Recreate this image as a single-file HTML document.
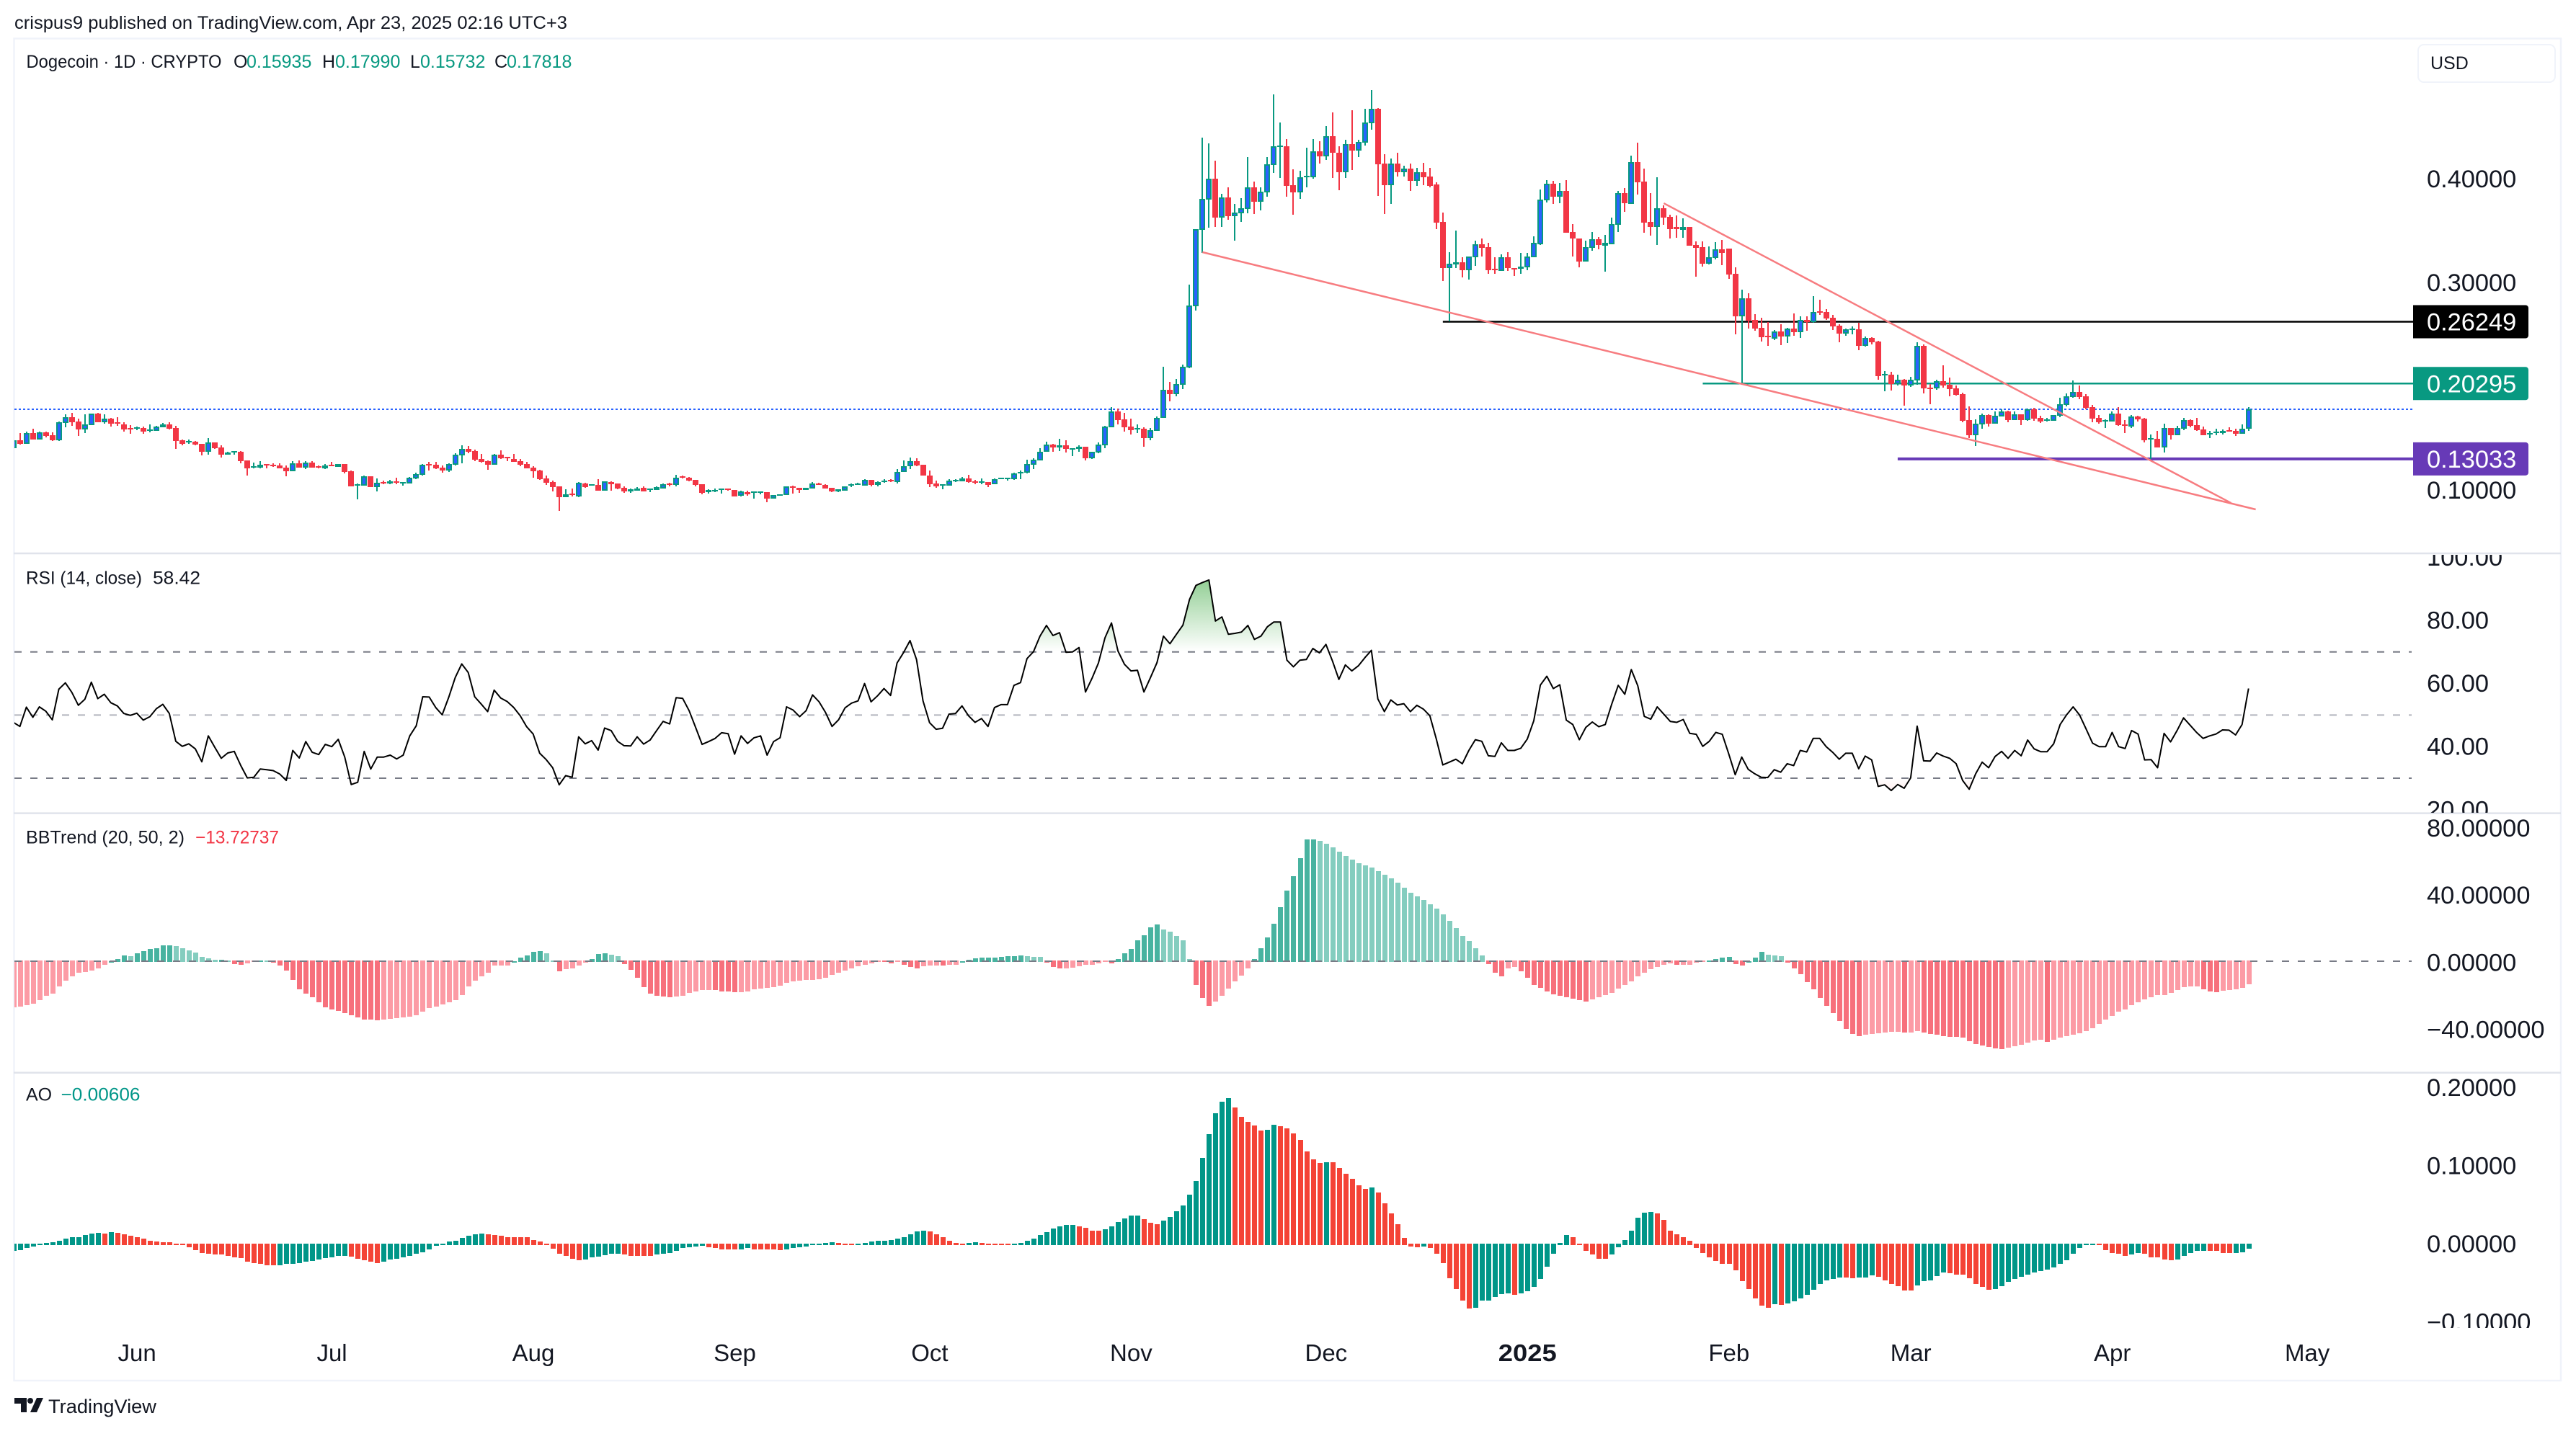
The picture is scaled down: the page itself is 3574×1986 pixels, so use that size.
<!DOCTYPE html>
<html lang="en">
<head>
<meta charset="utf-8">
<title>Dogecoin 1D chart</title>
<style>
html,body{margin:0;padding:0;background:#fff;width:3574px;height:1986px;overflow:hidden}
svg{display:block}
text{font-family:"Liberation Sans",sans-serif;fill:#131722}
.lg{font-size:25px}
.ax{font-size:34.4px}
.tm{font-size:33px;text-anchor:middle}
</style>
</head>
<body>
<svg id="chart" xmlns="http://www.w3.org/2000/svg" width="3574" height="1986" viewBox="0 0 3574 1986">
<defs>
<clipPath id="plotClip"><rect x="20" y="54" width="3533" height="1790"/></clipPath>
<clipPath id="aboveClip"><rect x="20" y="770" width="3330" height="134.4"/></clipPath>
<clipPath id="belowClip"><rect x="20" y="1080" width="3330" height="48"/></clipPath>
<clipPath id="rsiAxisClip"><rect x="3350" y="770" width="220" height="358"/></clipPath>
<clipPath id="aoAxisClip"><rect x="3350" y="1490" width="220" height="353"/></clipPath>
<linearGradient id="obGrad" gradientUnits="userSpaceOnUse" x1="0" y1="773" x2="0" y2="904.4">
<stop offset="0" stop-color="#4caf50" stop-opacity="0.8"/><stop offset="1" stop-color="#4caf50" stop-opacity="0"/>
</linearGradient>
<linearGradient id="osGrad" gradientUnits="userSpaceOnUse" x1="0" y1="1080" x2="0" y2="1211">
<stop offset="0" stop-color="#ff5252" stop-opacity="0"/><stop offset="1" stop-color="#ff5252" stop-opacity="0.8"/>
</linearGradient>
</defs>
<rect width="3574" height="1986" fill="#fff"/>
<text x="20" y="40" font-size="25" textLength="767" lengthAdjust="spacingAndGlyphs">crispus9 published on TradingView.com, Apr 23, 2025 02:16 UTC+3</text>
<g fill="none" stroke="#f0f3fa" stroke-width="2.5">
<rect x="19.5" y="53.5" width="3533.5" height="1862.5"/>
</g>
<g stroke="#e0e3eb" stroke-width="2.5">
<line x1="19" y1="768" x2="3553" y2="768"/>
<line x1="19" y1="1128.6" x2="3553" y2="1128.6"/>
<line x1="19" y1="1488.7" x2="3553" y2="1488.7"/>
</g>
<line x1="20" y1="568" x2="3348" y2="568" stroke="#2962ff" stroke-width="2" stroke-dasharray="3 3"/>
<g id="levels" clip-path="url(#plotClip)"></g>
<g id="candles" clip-path="url(#plotClip)" shape-rendering="crispEdges"></g>
<g id="trendlines"></g>
<g id="levelTags"></g>
<g id="priceAxis"></g>
<g>
<rect x="3355" y="62" width="190" height="52" rx="8" fill="#fff" stroke="#f0f3fa" stroke-width="2"/>
<text x="3372" y="96" class="lg">USD</text>
</g>
<g>
<text x="36.5" y="94" class="lg" textLength="271" lengthAdjust="spacingAndGlyphs">Dogecoin · 1D · CRYPTO</text>
<text x="324" y="94" class="lg">O</text>
<text x="342" y="94" class="lg" style="fill:#089981">0.15935</text>
<text x="447" y="94" class="lg">H</text>
<text x="465" y="94" class="lg" style="fill:#089981">0.17990</text>
<text x="569" y="94" class="lg">L</text>
<text x="583" y="94" class="lg" style="fill:#089981">0.15732</text>
<text x="686" y="94" class="lg">C</text>
<text x="703" y="94" class="lg" style="fill:#089981">0.17818</text>
</g>
<g id="rsiPane"></g>
<text x="36" y="810.5" class="lg" textLength="161" lengthAdjust="spacingAndGlyphs">RSI (14, close)</text>
<text x="212" y="810.5" class="lg" textLength="66" lengthAdjust="spacingAndGlyphs">58.42</text>
<g id="bbPane"></g>
<text x="36" y="1170.5" class="lg" textLength="220" lengthAdjust="spacingAndGlyphs">BBTrend (20, 50, 2)</text>
<text x="271" y="1170.5" class="lg" style="fill:#f23645" textLength="116" lengthAdjust="spacingAndGlyphs">−13.72737</text>
<g id="aoPane"></g>
<text x="36" y="1527.7" class="lg">AO</text>
<text x="84.5" y="1527.7" class="lg" style="fill:#009688" textLength="110" lengthAdjust="spacingAndGlyphs">−0.00606</text>
<g id="timeAxis"></g>
<g fill="#131722">
<path d="M20 1940h17v20h-8v-12h-9z"/>
<circle cx="42" cy="1944" r="4"/>
<path d="M51 1940h9l-9 20h-9z"/>
<text x="67" y="1961" font-size="27" textLength="150" lengthAdjust="spacingAndGlyphs">TradingView</text>
</g>
</svg>
<script>
const opens=[
.1408,.1482,.1450,.1552,.1489,.1559,.1531,.1482,.1649,.1704,
.1663,.1586,.1628,.1739,.1656,.1691,.1656,.1635,.1600,.1593,
.1600,.1573,.1573,.1607,.1635,.1600,.1482,.1461,.1468,.1448,
.1371,.1461,.1413,.1343,.1364,.1371,.1288,.1219,.1219,.1253,
.1246,.1239,.1218,.1184,.1260,.1218,.1267,.1230,.1211,.1246,
.1225,.1253,.1184,.1045,.1045,.1135,.1031,.1080,.1066,.1086,
.1066,.1066,.1114,.1149,.1253,.1246,.1218,.1191,.1246,.1336,
.1399,.1378,.1302,.1281,.1246,.1343,.1323,.1302,.1281,.1253,
.1218,.1191,.1114,.1080,.1038,.0934,.0968,.0942,.1066,.1042,
.1052,.0995,.1077,.1063,.1024,.0992,.0995,.1024,.1003,.1006,
.1020,.1063,.1049,.1133,.1123,.1098,.1056,.0985,.0992,.1009,
.1020,.1006,.0946,.0985,.0981,.0974,.0981,.0917,.0950,.0957,
.1041,.1024,.1006,.1020,.1066,.1052,.1024,.0988,.0995,.1042,
.1049,.1042,
.1103,.1053,.1078,.1103,.1081,.1174,.1230,.1282,.1248,.1143,
.1065,.1044,.1044,.1087,.1090,.1115,.1090,.1075,.1081,.1056,
.1109,.1112,.1109,.1168,.1168,.1248,.1291,.1369,.1440,.1413,
.1434,.1397,.1397,.1422,.1310,.1366,.1434,.1611,.1760,.1685,
.1614,.1589,.1595,.1502,.1574,.1695,.1971,.1930,.2017,.2184,
.2773,.3511,.3799,.4004,.3629,.3824,.3641,.3673,.3713,.3920,
.3781,.3874,.4137,.4311,.4317,.3942,.3874,.4016,.4016,.4267,
.4221,.4413,.4255,.4066,.4336,.4277,.4351,.4540,.4677,.4150,
.3942,.4150,.4063,.4100,.3982,.4069,.4026,.3948,.3585,.3145,
.3176,.3201,.3120,.3248,.3372,.3344,.3136,.3115,.3248,.3145,
.3136,.3152,.3248,.3375,.3796,.3954,.3827,.3886,.3489,.3427,
.3204,.3338,.3421,.3356,.3375,.3561,.3864,.3762,.4162,.3976,
.3585,.3539,.3719,.3635,.3536,.3511,.3539,.3365,.3344,.3185,
.3239,.3322,.3331,
.3087,.2677,.2850,.2642,.2566,.2489,.2462,.2531,.2482,.2559,
.2524,.2642,.2621,.2725,.2718,.2663,.2587,.2510,.2552,.2552,
.2392,.2468,.2434,.2107,.2114,.2024,.2066,.2010,.2059,.2392,
.1992,.1982,.2052,.2017,.1982,.1927,.1677,.1531,.1635,.1725,
.1642,.1712,.1760,
.1677,.1732,.1677,.1781,.1697,.1674,.1670,.1718,.1822,.1899,.1947,.1906,.1802,.1697,.1665,.1663,.1739,.1635,.1614,.1711,.1691,.1491,.1496,.1413,.1600,.1531,.1593,.1677,.1628,.1586,.1538,.1554,.1554,.1579,.1572,.1545,.15935];
const closes=[
.1482,.1448,.1552,.1489,.1556,.1524,.1482,.1656,.1704,.1656,
.1586,.1635,.1739,.1656,.1691,.1642,.1642,.1586,.1586,.1607,
.1566,.1586,.1614,.1635,.1593,.1475,.1448,.1475,.1441,.1371,
.1461,.1406,.1343,.1364,.1378,.1281,.1211,.1230,.1246,.1239,
.1232,.1211,.1184,.1260,.1218,.1265,.1218,.1218,.1239,.1232,
.1253,.1177,.1038,.1059,.1135,.1031,.1073,.1066,.1086,.1073,
.1080,.1121,.1156,.1246,.1239,.1211,.1191,.1253,.1343,.1399,
.1371,.1295,.1274,.1246,.1343,.1309,.1309,.1274,.1246,.1211,
.1184,.1107,.1073,.1031,.0934,.0961,.0954,.1073,.1031,.1056,
.0995,.1084,.1056,.1020,.0988,.1013,.1020,.0992,.1017,.1034,
.1059,.1049,.1123,.1123,.1091,.1049,.0978,.1006,.1006,.1020,
.1013,.0942,.0988,.0963,.0988,.0988,.0917,.0953,.0960,.1038,
.1024,.1006,.1024,.1063,.1049,.1020,.0988,.1013,.1038,.1056,
.1063,.1098,
.1053,.1081,.1093,.1087,.1177,.1233,.1282,.1242,.1140,.1062,
.1037,.1059,.1093,.1103,.1112,.1078,.1078,.1087,.1053,.1109,
.1121,.1121,.1165,.1180,.1255,.1295,.1372,.1440,.1413,.1434,
.1397,.1406,.1422,.1310,.1372,.1440,.1614,.1760,.1676,.1605,
.1580,.1602,.1502,.1580,.1698,.1971,.1930,.2023,.2191,.2783,
.3517,.3809,.4004,.3629,.3824,.3641,.3679,.3719,.3920,.3781,
.3880,.4143,.4317,.4323,.3936,.3874,.4016,.4032,.4267,.4221,
.4413,.4255,.4066,.4336,.4277,.4357,.4546,.4677,.4143,.3942,
.4150,.4063,.4100,.3982,.4069,.4019,.3936,.3579,.3145,.3185,
.3201,.3120,.3254,.3372,.3338,.3120,.3120,.3248,.3139,.3133,
.3155,.3254,.3387,.3802,.3954,.3827,.3886,.3483,.3424,.3204,
.3344,.3421,.3362,.3387,.3567,.3864,.3768,.4162,.3970,.3579,
.3539,.3719,.3629,.3517,.3517,.3536,.3359,.3338,.3185,.3248,
.3322,.3288,.3083,
.2677,.2850,.2635,.2559,.2475,.2475,.2531,.2482,.2559,.2524,
.2642,.2621,.2718,.2712,.2656,.2580,.2510,.2552,.2559,.2392,
.2468,.2427,.2100,.2121,.2024,.2066,.2010,.2066,.2392,.1982,
.1982,.2052,.2010,.1975,.1920,.1670,.1531,.1642,.1725,.1642,
.1718,.1760,.1677,
.1732,.1677,.1781,.1691,.1663,.1684,.1725,.1829,.1906,.1947,.1899,.1795,.1691,.1656,.1677,.1739,.1628,.1621,.1711,.1684,.1482,.1504,.1413,.1600,.1531,.1600,.1677,.1621,.1579,.1531,.1552,.1567,.1572,.1565,.1545,.1593,.17818];
const highs=[
.1490,.1552,.1563,.1593,.1566,.1566,.1556,.1663,.1732,.1746,
.1691,.1732,.1739,.1746,.1732,.1698,.1704,.1656,.1628,.1614,
.1614,.1635,.1621,.1649,.1656,.1621,.1489,.1489,.1475,.1448,
.1503,.1461,.1434,.1371,.1378,.1378,.1288,.1267,.1281,.1253,
.1258,.1260,.1239,.1281,.1288,.1281,.1281,.1239,.1253,.1274,
.1253,.1253,.1191,.1066,.1142,.1135,.1114,.1093,.1100,.1121,
.1080,.1128,.1170,.1253,.1274,.1274,.1239,.1260,.1357,.1434,
.1427,.1392,.1350,.1288,.1350,.1385,.1323,.1350,.1302,.1274,
.1232,.1198,.1142,.1093,.1038,.1010,.1017,.1081,.1073,.1056,
.1105,.1087,.1084,.1066,.1041,.1017,.1034,.1041,.1017,.1041,
.1066,.1070,.1151,.1144,.1130,.1102,.1056,.1013,.1020,.1020,
.1020,.1006,.0995,.0995,.0988,.0991,.0981,.0953,.0963,.1041,
.1045,.1027,.1024,.1077,.1070,.1059,.1024,.1013,.1038,.1063,
.1070,.1105,
.1103,.1087,.1105,.1109,.1202,.1285,.1316,.1307,.1248,.1193,
.1093,.1059,.1105,.1106,.1131,.1152,.1099,.1112,.1081,.1115,
.1124,.1124,.1168,.1193,.1295,.1310,.1403,.1471,.1450,.1496,
.1484,.1406,.1434,.1422,.1375,.1459,.1620,.1800,.1791,.1744,
.1689,.1636,.1605,.1602,.1713,.2191,.2048,.2073,.2209,.2984,
.3517,.4401,.4345,.4178,.3858,.3920,.3759,.3815,.4215,.3976,
.3920,.4212,.4813,.4546,.4385,.4094,.4081,.4301,.4388,.4364,
.4509,.4643,.4317,.4379,.4664,.4379,.4674,.4856,.4683,.4240,
.4199,.4255,.4128,.4150,.4106,.4156,.4106,.3970,.3678,.3294,
.3505,.3248,.3254,.3403,.3427,.3387,.3245,.3276,.3294,.3145,
.3288,.3288,.3449,.3899,.3988,.3982,.3961,.3988,.3567,.3427,
.3403,.3489,.3440,.3461,.3626,.3883,.3914,.4227,.4351,.4100,
.3864,.4016,.3744,.3657,.3651,.3620,.3539,.3396,.3396,.3350,
.3393,.3412,.3331,
.3149,.2934,.2899,.2698,.2663,.2621,.2545,.2600,.2566,.2705,
.2677,.2677,.2871,.2837,.2746,.2691,.2600,.2559,.2580,.2614,
.2482,.2475,.2441,.2149,.2142,.2114,.2073,.2094,.2427,.2406,
.2024,.2066,.2205,.2087,.2010,.1941,.1809,.1684,.1739,.1732,
.1760,.1781,.1767,
.1760,.1732,.1788,.1795,.1718,.1697,.1725,.1892,.1934,.2059,.2010,.1927,.1822,.1725,.1684,.1760,.1802,.1677,.1725,.1718,.1697,.1538,.1572,.1642,.1600,.1621,.1697,.1684,.1697,.1614,.1572,.1593,.1586,.1607,.1593,.1635,.1799];
const lows=[
.1400,.1441,.1450,.1489,.1489,.1510,.1475,.1475,.1607,.1621,
.1524,.1552,.1628,.1656,.1642,.1614,.1621,.1566,.1545,.1579,
.1545,.1559,.1573,.1607,.1586,.1399,.1434,.1448,.1434,.1336,
.1343,.1399,.1316,.1343,.1343,.1260,.1142,.1211,.1211,.1211,
.1225,.1211,.1135,.1184,.1218,.1204,.1218,.1211,.1204,.1232,
.1225,.1163,.1038,.0913,.1045,.1031,.0989,.1059,.1059,.1059,
.1045,.1066,.1107,.1142,.1191,.1204,.1170,.1177,.1239,.1260,
.1357,.1281,.1267,.1198,.1246,.1302,.1281,.1274,.1232,.1211,
.1121,.1100,.1052,.0989,.0802,.0934,.0941,.0935,.1024,.1042,
.0995,.0995,.0995,.1010,.0977,.0977,.0995,.0988,.0985,.1006,
.1020,.1041,.1041,.1116,.1084,.1041,.0960,.0971,.0985,.0971,
.0995,.0942,.0942,.0949,.0921,.0960,.0885,.0917,.0950,.0953,
.0971,.0977,.1006,.1020,.1049,.1020,.0981,.0985,.0995,.1034,
.1049,.1042,
.1037,.1037,.1071,.1080,.1068,.1174,.1202,.1233,.1140,.1028,
.1022,.1009,.1044,.1078,.1087,.1075,.1056,.1062,.1031,.1056,
.1109,.1093,.1099,.1105,.1161,.1208,.1291,.1369,.1372,.1378,
.1366,.1332,.1372,.1285,.1304,.1360,.1409,.1611,.1636,.1568,
.1540,.1552,.1422,.1481,.1574,.1695,.1856,.1909,.1977,.2178,
.2736,.3288,.3533,.3536,.3539,.3610,.3406,.3585,.3672,.3663,
.3697,.3827,.4057,.4013,.3827,.3657,.3809,.3923,.4004,.4150,
.4181,.4013,.3892,.4013,.4088,.4212,.4323,.4478,.3837,.3663,
.3759,.4026,.4026,.3886,.3936,.3942,.3920,.3517,.3015,.2631,
.3145,.3052,.3031,.3164,.3251,.3090,.3090,.3115,.3115,.3065,
.3090,.3120,.3248,.3366,.3775,.3759,.3768,.3480,.3254,.3148,
.3204,.3307,.3325,.3108,.3372,.3489,.3685,.3759,.3852,.3480,
.3458,.3362,.3558,.3424,.3434,.3431,.3359,.3059,.3158,.3176,
.3226,.3170,.3040,
.2503,.2031,.2559,.2538,.2434,.2392,.2448,.2399,.2420,.2489,
.2468,.2538,.2614,.2691,.2642,.2545,.2427,.2489,.2503,.2350,
.2385,.2406,.2066,.1955,.1961,.2010,.1816,.1996,.2017,.1934,
.1830,.1969,.1989,.1906,.1913,.1656,.1503,.1427,.1594,.1614,
.1642,.1712,.1656,
.1677,.1628,.1670,.1670,.1649,.1663,.1670,.1704,.1809,.1892,.1878,.1781,.1656,.1642,.1600,.1663,.1621,.1552,.1600,.1663,.1461,.1302,.1413,.1364,.1489,.1531,.1579,.1607,.1572,.1531,.1503,.1531,.1538,.1565,.1524,.1545,.1573];
const rsiValues=[
47.7,46.4,52.5,49.3,52.6,51.2,48.5,58.2,60.2,57.2,
53.1,55,60.4,55.2,56.6,53.9,52.9,50.5,49.9,50.6,
48.4,49.5,52,53.4,50.5,41.7,40.1,40.9,39.3,35.2,
43.4,39.8,36.3,38,38.5,34,30.1,30.3,32.9,32.7,
32.4,31.3,29.3,38.8,36.4,41.6,38.2,37.5,40.7,40,
42.3,36.7,28,28.7,38.5,32.9,36.7,36.7,37.3,36.1,
37.3,43.4,46.6,55.8,55.7,52.4,50.1,55.6,61.9,66.2,
63.5,55.8,53.5,51.1,57.9,55.4,54.3,52.4,49.8,46.3,
44,37.9,35.9,33.3,27.9,30.8,30.3,43.1,40.9,41.9,
38.9,45.9,45.1,41.7,40.3,40.2,43.1,40.8,42.1,45.1,
48,47.2,55.5,55.3,51.4,46.1,40.7,41.6,42.6,44.4,
44.1,37.6,43.4,41,42.8,43.4,37.3,41.6,42.8,52.6,
51.6,49.5,51.4,56.4,54.2,50.8,46.4,48.5,52.3,53.8,
54.5,60,54.2,56.1,58.4,56.2,66.5,69.8,73.6,67.6,
54.5,47.6,45.5,45.8,50.3,50.5,52.9,49.8,47.7,48.9,
46.4,52.4,53.3,53.3,59.4,60.3,67.9,70.1,75,78.4,
75.2,76.1,69.9,70,71.4,57.3,61.6,66.5,74.5,79.2,
70.3,66.1,64,64.2,57.3,61.9,66.6,75,72.6,75.6,
78.5,86.6,91.1,92,92.8,79.8,81.1,
75.6,75.9,76.3,78.4,74,75,78,79.5,79.5,67.4,
65.3,67.4,67.6,71.1,69.7,72.4,67.2,61.3,65.9,64,
65.6,68.2,70.5,55.1,51.1,54.8,53.2,53.6,51.1,53.1,
51.9,49.8,42.4,34.2,35.1,36,34.6,38.8,42.2,41.7,
37.1,36.9,41.2,38.8,38.8,39.5,42.4,48.2,59.5,62.3,
58.4,59.6,48.4,47,42.2,46.1,47.8,46.3,47,53.5,
59.4,56.6,64.4,59.3,49.6,48.7,52.6,50.3,48,47.7,
48.6,44.2,43.9,40.1,41.7,44.5,43.9,37.7,31.1,36.7,
32.8,31.4,30.3,30.2,32.7,31.9,34.6,34,38.8,38.3,
42.6,42.6,40,38.2,36,37.9,37.9,33,37,35.8,
27.4,27.9,26.1,28,26.8,30.1,46.5,35.5,35.4,38,
37,36.3,34.6,29.3,26.5,31.4,35.1,33.3,36.9,38.5,
36.3,38.8,37.1,42.1,39.3,38.4,38.4,40.9,47,50.1,
52.6,50,45.6,41.1,40,40,44.5,40,39.4,45.1,
44,35.8,35.9,33.3,44.2,41.5,45.1,49.1,46.8,44.5,
42.6,43.4,44,45.3,45.2,43.7,47,58.42];
const bbValues=[
-27.5,-26.9,-26.1,-25.1,-22.9,-20.6,-19,-14.8,-11.3,-8.7,
-6.7,-6.1,-5.5,-4.3,-2,.1,1.6,3.8,3.2,4.9,
6.3,7.5,7.9,9.5,9.5,9.1,8.1,6.7,5.5,2.8,
2,1.2,1.2,.8,-1.6,-2,-1.2,-.2,.6,.4,
-.8,-2.4,-5.5,-10.9,-16.4,-19,-21.5,-24.5,-27.5,-28.5,
-29.6,-30.8,-32,-33.2,-34.4,-34.8,-35.2,-34.4,-34,-33.8,
-33.4,-33,-32,-30,-27.7,-26.9,-25.7,-24.5,-23.1,-19.8,
-14.8,-11.3,-8.9,-6.7,-2.6,-2.6,-2.2,.1,2.2,3.8,
5.9,6.3,4.7,.4,-5.7,-4.7,-4,-2.4,-.8,1.6,
4.3,5.1,4,3.2,-1.4,-4.9,-9.9,-15.4,-19,-20.4,
-20.9,-21.1,-20.8,-20.4,-18.6,-17.8,-17,-17,-17.2,-17.8,
-18,-18.2,-18.2,-17.8,-16.6,-16.2,-15.8,-15.4,-14.6,-12.6,
-11.9,-11.5,-11.1,-11.1,-10.7,-9.5,-7.9,-6.7,-5.5,-4.3,
-3,-2,-1.2,-.2,-.4,-1,-.2,-2,-3.2,-4,
-3,-2.4,-2.2,-2.4,-2,-1.8,.1,1.2,1.8,2.2,
2.2,2.4,2.8,3,3.2,3.4,3,2.8,2.6,-.8,
-3.4,-4.3,-4,-3.6,-3,-1.8,-1.8,-1,-.4,-1,
1.6,4.7,7.5,12.6,15.8,20.2,21.9,19,17.8,15.4,
12.5,1.6,-13.8,-21.7,-26.3,-23.7,-20.6,
-16.2,-11.9,-8.5,-4.3,1.6,7.7,14.4,22.7,32.2,42.1,
50.8,61.5,72.7,72.7,71.9,70.2,67.8,65.2,62.8,60.7,
58.5,57.3,55.9,53.8,51.8,49.4,46.8,43.9,40.9,38.7,
36.6,34,31.4,28.1,24.3,19.8,15.4,12.1,7.7,3.8,
-1.4,-6.5,-8.7,-4.3,-3.4,-5.9,-9.9,-14.2,-15.8,-17.8,
-19.4,-20.6,-21.3,-22.1,-22.9,-23.7,-22.5,-21.1,-19.8,-18.8,
-16.2,-14.2,-11.7,-8.7,-6.7,-4.7,-3.2,-2,-1.2,-1.8,
-1.8,-1.8,-.8,-.4,.6,1.6,2.2,2.6,-1.6,-2.2,
.1,2.2,5.9,4.2,3.8,3.2,-.8,-4.3,-7.7,-12.1,
-16.6,-21.7,-26.5,-30.6,-35.6,-40.3,-43.1,-44.3,-43.5,-43.1,
-42.7,-42.3,-42.1,-42.1,-42.3,-42.3,-41.5,-42.3,-43.1,-43.7,
-44.5,-44.7,-45.1,-45.5,-47.4,-49,-50.2,-51,-51.8,-52.4,
-51.4,-50.4,-49.4,-48.2,-47.2,-46.6,-47.8,-46.4,-45.5,-44.5,
-43.5,-42.7,-41.5,-39.9,-37,-34.4,-32.4,-30,-28.5,-26.1,
-24.1,-22.5,-21.1,-20.2,-19.8,-18.8,-16.8,-15.2,-15,-15,
-16.4,-17.8,-18.2,-17.6,-17.2,-16.6,-15.6,-13.73];
const aoValues=[
-.0083,-.0074,-.0052,-.0028,-.0006,.0015,.0025,.0037,.0065,.0083,
.0092,.0117,.0138,.0139,.0137,.0148,.0146,.0129,.0102,.0083,
.0065,.0037,.0028,.0027,.0026,.0009,-.0009,-.0037,-.0074,-.0111,
-.0123,-.0132,-.0138,-.0154,-.0166,-.0178,-.0222,-.024,-.0258,-.0268,
-.0274,-.0268,-.0258,-.0252,-.024,-.0222,-.0212,-.0194,-.0178,-.0166,
-.0154,-.0148,-.016,-.0185,-.0203,-.0222,-.024,-.0228,-.0197,-.0185,
-.0175,-.0154,-.0129,-.0102,-.0068,-.0025,-.0009,.0028,.0046,.0077,
.0102,.012,.0138,.0129,.0111,.0102,.0092,.0091,.009,.0083,
.0055,.0028,.0009,-.0062,-.012,-.0148,-.0185,-.0203,-.0194,-.0175,
-.0157,-.0145,-.0129,-.0128,-.0138,-.0148,-.0149,-.015,-.0151,-.0138,
-.0129,-.0114,-.0092,-.0055,-.0037,-.0028,-.0027,-.0037,-.0055,-.0065,
-.0066,-.0067,-.0066,-.0055,-.0065,-.0066,-.0067,-.0068,-.0074,-.0065,
-.0055,-.0046,-.0028,.0006,.0007,.0018,.0019,.0018,.0009,.0008,
.0009,.0018,.0028,.0037,.0046,.0047,.0065,.0092,.0129,.0157,
.0166,.0157,.0129,.0083,.0037,.0018,.0009,.0018,.0019,.0018,
.0009,.0008,.0007,.0006,.0009,.0018,.0037,.0065,.0111,.0148,
.0194,.0222,.024,.0241,.0222,.0203,.0175,.0166,.0185,.0222,
.0277,.0323,.036,.0361,.0314,.0268,.0258,.0295,.0342,.0415,
.0489,.0628,.0803,.1098,.1403,.1671,.1818,
.1865,.1745,.1625,.156,.1514,.1452,.1458,.1523,.1505,.1477,
.1412,.1329,.1182,.108,.1034,.1043,.1042,.0969,.0895,.0831,
.0748,.0702,.072,.0655,.0517,.0388,.0249,.0074,-.0028,-.0037,
-.0036,-.0055,-.012,-.024,-.0434,-.0572,-.072,-.0822,-.0812,-.072,
-.0719,-.0674,-.0637,-.0628,-.0646,-.0628,-.06,-.0545,-.0443,-.0286,
-.0129,.0018,.0111,.0092,.0009,-.0083,-.0138,-.0185,-.0186,-.0138,
-.0046,.0055,.0175,.0332,.0397,.0406,.0388,.0305,.0175,.012,
.0083,.0037,-.0055,-.0111,-.0166,-.0212,-.0249,-.025,-.0332,-.0471,
-.0572,-.0692,-.0785,-.0812,-.0766,-.0775,-.0757,-.0729,-.0692,-.0646,
-.0582,-.0508,-.0462,-.0443,-.0425,-.0426,-.0434,-.0425,-.0424,-.0397,
-.0415,-.0462,-.0508,-.0535,-.0591,-.0592,-.0526,-.0471,-.0462,-.0406,
-.036,-.0369,-.0388,-.0389,-.0434,-.0508,-.0545,-.0582,-.0572,-.0535,
-.048,-.0443,-.0415,-.0388,-.036,-.0342,-.0323,-.0295,-.0249,-.0203,
-.012,-.0055,-.0009,-.0008,-.0012,-.0074,-.0111,-.0129,-.0148,-.0138,
-.0111,-.012,-.0166,-.0175,-.0194,-.0203,-.0194,-.0148,-.0111,-.0092,
-.0083,-.0084,-.0092,-.0111,-.0112,-.0111,-.0102,-.00606];
const priceTicks=[0.4,0.3,0.1];
const rsiTicks=[100,80,60,40,20];
const rsiBands=[70,50,30];
const bbTicks=[80,40,0,-40];
const aoTicks=[0.2,0.1,0,-0.1];
const monthLabels=["Jun","Jul","Aug","Sep","Oct","Nov","Dec","2025","Feb","Mar","Apr","May"];
const monthDaysBeforeLast=[326,296,265,234,204,173,143,112,81,53,22,-8];
const levelPrices=[0.26249,0.20295,0.13033];
const levelStartBars=[220,260,290];
const trendBarsA=[183,345.1];
const trendPricesA=[0.3295,0.0816];
const trendBarsB=[254,341.3];
const trendPricesB=[0.3767,0.0878];

const NS="http://www.w3.org/2000/svg";
function make(tag,parent,attrs){
  const el=document.createElementNS(NS,tag);
  for(const k in attrs){el.setAttribute(k,attrs[k]);}
  parent.appendChild(el);
  return el;
}
const lastBar=opens.length-1;
function xOf(i){return 3119.7-(lastBar-i)*9.015;}
function yPrice(p){return 680.5-(p-0.10)*1440;}
function yRsi(v){return 992.4-(v-50)*4.38;}
function yBb(v){return 1334.4-v*2.33;}
function yAo(v){return 1726.5-v*1085;}
function fmt(v,d){return (v<0?"\u2212":"")+Math.abs(v).toFixed(d);}

/* candles */
const candleGroup=document.getElementById("candles");
opens.forEach(function(o,i){
  const c=closes[i],up=c>=o,cx=Math.round(xOf(i));
  const col=up?"#089981":"#f23645";
  const top=Math.round(yPrice(Math.max(o,c))),bot=Math.round(yPrice(Math.min(o,c)));
  const wick=make("rect",candleGroup,{x:cx-1,y:Math.round(yPrice(highs[i])),width:2,height:Math.max(1,Math.round(yPrice(lows[i]))-Math.round(yPrice(highs[i]))),fill:col});
  
  
  const body=make("rect",candleGroup,{x:cx-4,y:top,width:8,height:Math.max(2,bot-top),fill:col});
  
  
  if(up&&bot-top>4){
    const inner=make("rect",candleGroup,{x:cx-2,y:top+2,width:4,height:bot-top-4,fill:"#2962ff"});
    
    
  }
});

/* trend lines */
const trendGroup=document.getElementById("trendlines");
const lineA=make("line",trendGroup,{x1:xOf(trendBarsA[0]),y1:yPrice(trendPricesA[0]),x2:xOf(trendBarsA[1]),y2:yPrice(trendPricesA[1]),stroke:"#f77c80","stroke-width":2.5});


const lineB=make("line",trendGroup,{x1:xOf(trendBarsB[0]),y1:yPrice(trendPricesB[0]),x2:xOf(trendBarsB[1]),y2:yPrice(trendPricesB[1]),stroke:"#f77c80","stroke-width":2.5});



/* horizontal levels and tags */
const levelColors=["#000000","#089981","#673ab7"];
const levelWidths=[2.5,2.5,4];
const levelGroup=document.getElementById("levels");
const tagGroup=document.getElementById("levelTags");
levelPrices.forEach(function(p,i){
  const y=yPrice(p);
  const ln=make("line",levelGroup,{x1:xOf(levelStartBars[i]),y1:y,x2:3348,y2:y,stroke:levelColors[i],"stroke-width":levelWidths[i]});
  
  
  const box=make("path",tagGroup,{d:"M3348 "+(y-23)+"h156a4 4 0 0 1 4 4v38a4 4 0 0 1 -4 4h-156z",fill:levelColors[i]});
  
  
  const tx=make("text",tagGroup,{x:3367,y:y+12,"font-size":34.4,style:"fill:#fff"});
  
  
  tx.textContent=p.toFixed(5);
});

/* price axis */
const priceAxis=document.getElementById("priceAxis");
priceTicks.forEach(function(t){
  const tx=make("text",priceAxis,{x:3367,y:yPrice(t)+11.5,class:"ax"});
  
  
  tx.textContent=t.toFixed(5);
});

/* RSI */
const rsiPane=document.getElementById("rsiPane");
const bandColors=["#787b86","#b2b5be","#787b86"];
rsiBands.forEach(function(b,i){
  const ln=make("line",rsiPane,{x1:20,y1:yRsi(b),x2:3346,y2:yRsi(b),stroke:bandColors[i],"stroke-width":2,"stroke-dasharray":"10 12"});
  
  
});
const rsiPts=rsiValues.map(function(v,i){return xOf(i).toFixed(1)+","+yRsi(v).toFixed(1);});
const pAbove="M"+xOf(0).toFixed(1)+","+yRsi(70).toFixed(1)+"L"+rsiPts.join("L")+"L"+xOf(lastBar).toFixed(1)+","+yRsi(70).toFixed(1)+"Z";
const pBelow="M"+xOf(0).toFixed(1)+","+yRsi(30).toFixed(1)+"L"+rsiPts.join("L")+"L"+xOf(lastBar).toFixed(1)+","+yRsi(30).toFixed(1)+"Z";
const fillOb=make("path",rsiPane,{d:pAbove,fill:"url(#obGrad)","clip-path":"url(#aboveClip)"});


const fillOs=make("path",rsiPane,{d:pBelow,fill:"url(#osGrad)","clip-path":"url(#belowClip)"});


const rsiLine=make("polyline",rsiPane,{points:rsiPts.join(" "),fill:"none",stroke:"#000","stroke-width":2,"stroke-linejoin":"round","clip-path":"url(#plotClip)"});


const rsiAxis=make("g",rsiPane,{"clip-path":"url(#rsiAxisClip)"});


rsiTicks.forEach(function(t){
  const tx=make("text",rsiAxis,{x:3367,y:yRsi(t)+11.5,class:"ax"});
  
  
  tx.textContent=t.toFixed(2);
});

/* BBTrend */
const bbPane=document.getElementById("bbPane");
const bbBars=make("g",bbPane,{"shape-rendering":"crispEdges","clip-path":"url(#plotClip)"});


bbValues.forEach(function(v,i){
  const prev=i?bbValues[i-1]:v;
  let col;
  if(v>=0){col=v>=prev?"#48b3a0":"#84cdbf";}else{col=v<prev?"#f7707c":"#fc9ba5";}
  const y0=yBb(0),y1=yBb(v);
  const top=Math.round(Math.min(y0,y1))-(v<0?1:0);
  const bot=Math.round(Math.max(y0,y1))+(v>=0?1:0);
  const r=make("rect",bbBars,{x:Math.round(xOf(i))-3,y:top,width:7,height:Math.max(2,bot-top),fill:col});
  
  
});
const bbZero=make("line",bbPane,{x1:20,y1:1334,x2:3346,y2:1334,stroke:"#787b86","stroke-width":2,"stroke-dasharray":"10 12"});


bbTicks.forEach(function(t){
  const tx=make("text",bbPane,{x:3367,y:yBb(t)+13,class:"ax"});
  
  
  tx.textContent=fmt(t,5);
});

/* AO */
const aoPane=document.getElementById("aoPane");
const aoBars=make("g",aoPane,{"shape-rendering":"crispEdges","clip-path":"url(#plotClip)"});


aoValues.forEach(function(v,i){
  const prev=i?aoValues[i-1]:v;
  const col=v>=prev?"#009688":"#f44336";
  const y0=yAo(0),y1=yAo(v);
  const top=Math.round(Math.min(y0,y1))-(v<0?1:0);
  const bot=Math.round(Math.max(y0,y1))+(v>=0?1:0);
  const r=make("rect",aoBars,{x:Math.round(xOf(i))-3,y:top,width:7,height:Math.max(2,bot-top),fill:col});
  
  
});
const aoAxis=make("g",aoPane,{"clip-path":"url(#aoAxisClip)"});


aoTicks.forEach(function(t){
  const tx=make("text",aoAxis,{x:3367,y:yAo(t)+11.5,class:"ax"});
  
  
  tx.textContent=fmt(t,5);
});

/* time axis */
const timeAxis=document.getElementById("timeAxis");
monthLabels.forEach(function(m,i){
  const attrs={x:xOf(lastBar-monthDaysBeforeLast[i])+9.3,y:1889,class:"tm"};
  if(m==="2025"){attrs["font-weight"]="700";attrs["textLength"]=81;attrs["lengthAdjust"]="spacingAndGlyphs";}
  const tx=make("text",timeAxis,attrs);
  
  
  tx.textContent=m;
});
</script>
</body>
</html>
